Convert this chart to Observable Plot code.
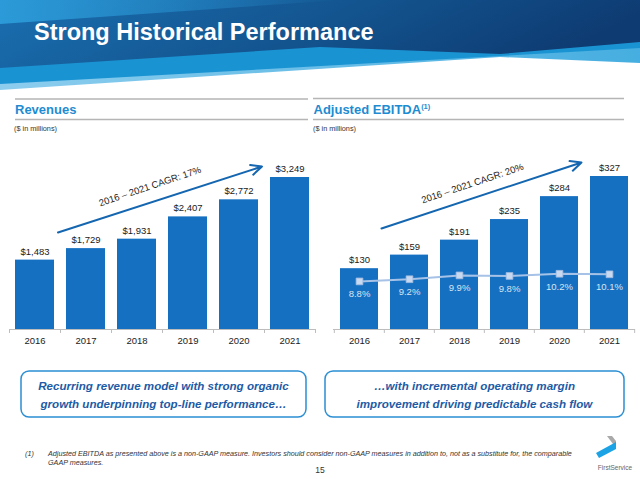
<!DOCTYPE html>
<html><head><meta charset="utf-8">
<script src="https://cdn.jsdelivr.net/npm/d3@7"></script>
<script src="https://cdn.jsdelivr.net/npm/@observablehq/plot@0.6"></script>
<style>
html,body{margin:0;padding:0;background:#fff;}
#page{position:relative;width:640px;height:479px;overflow:hidden;font-family:Arial,"Liberation Sans",sans-serif;}
#deco{position:absolute;left:0;top:0;}
.chart{position:absolute;top:140px;}
</style></head><body>
<div id="page">
<svg id="deco" width="640" height="479" font-family="Arial, 'Liberation Sans', sans-serif">
  <defs>
    <linearGradient id="gDark" x1="0" y1="0" x2="1" y2="0.2">
      <stop offset="0" stop-color="#1a6fb0"/>
      <stop offset="0.55" stop-color="#13548f"/>
      <stop offset="1" stop-color="#0e3b72"/>
    </linearGradient>
    <linearGradient id="gWedge" x1="0" y1="0" x2="1" y2="0">
      <stop offset="0" stop-color="#2c9ad8" stop-opacity="1"/>
      <stop offset="1" stop-color="#2c9ad8" stop-opacity="0"/>
    </linearGradient>
    <linearGradient id="gPale" x1="0" y1="0" x2="1" y2="0">
      <stop offset="0" stop-color="#8ccdee"/>
      <stop offset="1" stop-color="#46aee0"/>
    </linearGradient>
  </defs>
  <polygon points="0,0 640,0 640,63 500,57 0,90" fill="url(#gPale)"/>
  <polygon points="0,0 640,0 640,48 500,56 0,84" fill="#1a93d2"/>
  <polygon points="0,0 640,0 640,42 500,54 320,47 0,68" fill="url(#gDark)"/>
  <polygon points="0,0 340,0 0,24" fill="url(#gWedge)"/>
  <text x="34" y="39.5" fill="#fff" font-size="23.5" font-weight="bold">Strong Historical Performance</text>

  <line x1="15" x2="308" y1="99" y2="99" stroke="#b5b5b5" stroke-width="1.5"/>
  <line x1="15" x2="308" y1="119.5" y2="119.5" stroke="#b5b5b5" stroke-width="1.5"/>
  <line x1="313" x2="624" y1="98.5" y2="98.5" stroke="#b5b5b5" stroke-width="1.5"/>
  <line x1="313" x2="624" y1="119.5" y2="119.5" stroke="#b5b5b5" stroke-width="1.5"/>
  <text x="15" y="114" fill="#1e8cd2" font-size="13" font-weight="bold">Revenues</text>
  <text x="313.5" y="113.5" fill="#1e8cd2" font-size="13" font-weight="bold">Adjusted EBITDA<tspan font-size="7.5" dy="-5">(1)</tspan></text>
  <text x="14" y="131" fill="#333" font-size="7.3">($ in millions)</text>
  <text x="313" y="131" fill="#333" font-size="7.3">($ in millions)</text>

  <rect x="21" y="371" width="285" height="46" rx="8" fill="none" stroke="#2a8fd4" stroke-width="1.5"/>
  <rect x="325" y="371" width="299" height="46" rx="8" fill="none" stroke="#2a8fd4" stroke-width="1.5"/>
  <g fill="#1d5ba6" font-size="11.6" font-weight="bold" font-style="italic" text-anchor="middle">
    <text x="163.5" y="390">Recurring revenue model with strong organic</text>
    <text x="163.5" y="408">growth underpinning top-line performance…</text>
    <text x="474.5" y="390">…with incremental operating margin</text>
    <text x="474.5" y="408">improvement driving predictable cash flow</text>
  </g>

  <g fill="#333" font-size="7.2" font-style="italic">
    <text x="25" y="455.5">(1)</text>
    <text x="48" y="455.5">Adjusted EBITDA as presented above is a non-GAAP measure. Investors should consider non-GAAP measures in addition to, not as a substitute for, the comparable</text>
    <text x="48" y="464.5">GAAP measures.</text>
  </g>
  <text x="320" y="473" fill="#333" font-size="8.5" text-anchor="middle">15</text>

  <polygon points="607,436 612,436 616,441 616,448" fill="#a9a9a9"/>
  <polygon points="596,453 616,442 616,449 599,458" fill="#1ba3e6"/>
  <text x="615" y="469.5" fill="#666" font-size="6.5" text-anchor="middle">FirstService</text>
</svg>
<div id="left" class="chart" style="left:0px"></div>
<div id="right" class="chart" style="left:320px"></div>
</div>
<script>
// ---- data ----
const years = ["2016", "2017", "2018", "2019", "2020", "2021"];
const revenues = [1483, 1729, 1931, 2407, 2772, 3249];
const ebitda = [130, 159, 191, 235, 284, 327];
const margins = [8.8, 9.2, 9.9, 9.8, 10.2, 10.1];
const revenueCagr = "2016 – 2021 CAGR: 17%";
const ebitdaCagr = "2016 – 2021 CAGR: 20%";
const marginAxisMax = 28; // % at top of the EBITDA value axis

const fmtDollar = d3.format("$,");
const fmtPct = (v) => v.toFixed(1) + "%";

const W = 320, H = 215, MB = 26;
const barColor = "#1670c2";
const labelDx = 13;

function barChart({values, marginLeft, marginRight, marginTop, cagr, arrow, label, extra = []}) {
  const data = years.map((year, i) => ({year, value: values[i]}));
  const step = (W - marginLeft - marginRight) / years.length;
  const plotH = H - marginTop - MB;
  return Plot.plot({
    width: W, height: H,
    marginLeft, marginRight, marginTop, marginBottom: MB,
    style: {fontFamily: "Arial, 'Liberation Sans', sans-serif", fontSize: "9.5px", color: "#222", background: "transparent", overflow: "visible"},
    x: {domain: years, paddingInner: 0.235, paddingOuter: 0.1175, tickSize: 0, tickPadding: 8, label: null},
    y: {domain: [0, d3.max(values)], axis: null},
    marks: [
      Plot.barY(data, {x: "year", y: "value", fill: barColor}),
      Plot.ruleY([0], {stroke: "#bdbdbd", strokeWidth: 1.2}),
      Plot.ruleX(years, {x: (d) => d, dx: -step / 2, insetTop: plotH, insetBottom: -4, stroke: "#bdbdbd"}),
      Plot.ruleX(years.slice(-1), {x: (d) => d, dx: step / 2, insetTop: plotH, insetBottom: -4, stroke: "#bdbdbd"}),
      Plot.text(data, {x: "year", y: "value", text: (d) => fmtDollar(d.value), lineAnchor: "bottom", dy: -5.5, fill: "#1a1a1a", fontSize: 9.5}),
      Plot.arrow([0], {x1: () => years[1], x2: () => years[5], y1: () => arrow[0], y2: () => arrow[1], dx: -28, stroke: "#1466b0", strokeWidth: 2, headLength: 9, headAngle: 50}),
      Plot.text([cagr], {x: () => years[2], y: () => label, text: (d) => d, dx: labelDx, rotate: -18.5, fontSize: 9.5, fill: "#222"}),
      ...extra
    ]
  });
}

const marginData = years.map((year, i) => ({year, m: margins[i], v: margins[i] / marginAxisMax * d3.max(ebitda)}));

document.getElementById("left").append(barChart({
  values: revenues, marginLeft: 9, marginRight: 5, marginTop: 37,
  cagr: revenueCagr, arrow: [2073, 3484], label: 3057
}));

document.getElementById("right").append(barChart({
  values: ebitda, marginLeft: 13, marginRight: 5, marginTop: 36,
  cagr: ebitdaCagr, arrow: [216, 357], label: 312,
  extra: [
    Plot.line(marginData, {x: "year", y: "v", stroke: "#a6c2e6", strokeWidth: 2}),
    Plot.dot(marginData, {x: "year", y: "v", symbol: "square", r: 3.8, fill: "#c9d9ef", stroke: "#9fbbe2", strokeWidth: 0.8}),
    Plot.text(marginData, {x: "year", y: "v", text: (d) => fmtPct(d.m), dy: 13, fill: "#d9e5f3", fontSize: 9.5})
  ]
}));
</script>
</body></html>
